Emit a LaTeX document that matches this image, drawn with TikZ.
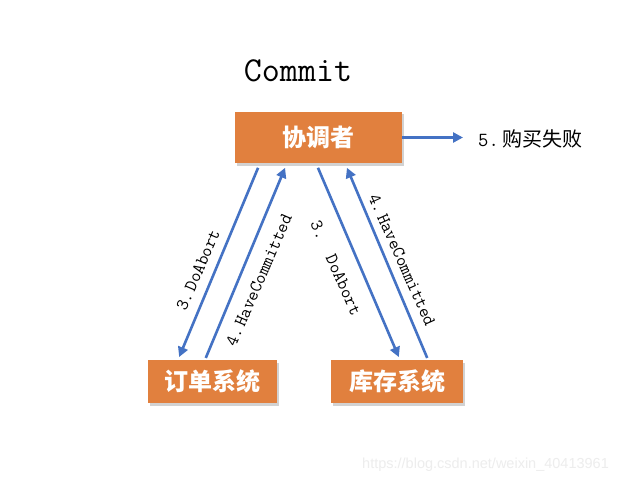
\documentclass[tikz,border=0pt]{standalone}
\usepackage{fontspec}
\newfontfamily\cjk{Noto Sans CJK SC}
\newfontfamily\wm{Liberation Sans}
\usetikzlibrary{arrows.meta,shadows}
\definecolor{boxorange}{RGB}{225,128,62}
\definecolor{arrblue}{RGB}{68,114,196}
\begin{document}
\begin{tikzpicture}[x=1pt,y=-1pt,
  box/.style={fill=boxorange, draw=none, text=white,
    font=\cjk\bfseries\fontsize{24}{28}\selectfont,
    drop shadow={shadow xshift=2pt,shadow yshift=-2.5pt,opacity=0.35},
    inner sep=0pt},
  arr/.style={draw=arrblue, line width=2.6pt, -{Triangle[length=10pt,width=10pt]}},
  lbl/.style={font=\ttfamily\fontsize{18}{20}\selectfont, inner sep=0pt}]
\fill[white] (0,0) rectangle (639,484);
\useasboundingbox (0,0) rectangle (639,484);

\node[font=\ttfamily\fontsize{35}{40}\selectfont] (title) at (298,71) {Commit};

\node[box, minimum width=167pt, minimum height=51pt] (coord) at (318.5,137.5) {协调者};
\node[box, minimum width=129pt, minimum height=43pt] (order) at (212.5,381.5) {订单系统};
\node[box, minimum width=132pt, minimum height=43pt] (stock) at (397,381.5) {库存系统};

\node[anchor=west, inner sep=0pt] (fail) at (478,139)
  {\ttfamily\fontsize{20}{22}\selectfont 5.\,\cjk 购买失败};

\draw[arr, shorten >=15pt] (coord.east) -- (coord.east -| fail.west);

\draw[arr, shorten <=5pt, shorten >=3pt] ([xshift=-58.5pt]coord.south) -- ([xshift=-34.5pt]order.north);
\draw[arr, shorten <=2pt, shorten >=5pt] ([xshift=-7.5pt]order.north) -- ([xshift=-31.5pt]coord.south);
\draw[arr, shorten <=5pt, shorten >=3pt] ([xshift=-2.5pt]coord.south) -- ([xshift=3pt]stock.north);
\draw[arr, shorten <=2pt, shorten >=5pt] ([xshift=31pt]stock.north) -- ([xshift=26.5pt]coord.south);

\node[lbl, rotate=66.5] (l1) at (198,270) {3.\,DoAbort};
\node[lbl, rotate=66.5] (l2) at (259,280) {4.\,HaveCommitted};
\node[lbl, rotate=-66] (l3) at (336,268) {3.\ \ DoAbort};
\node[lbl, rotate=-66] (l4) at (402,260) {4.\,HaveCommitted};

\node[anchor=west, inner sep=0pt, text=black!7, font=\wm\fontsize{14.5}{17}\selectfont] (wmark) at (362,465)
  {https://blog.csdn.net/weixin\_40413961};
\end{tikzpicture}
\end{document}
